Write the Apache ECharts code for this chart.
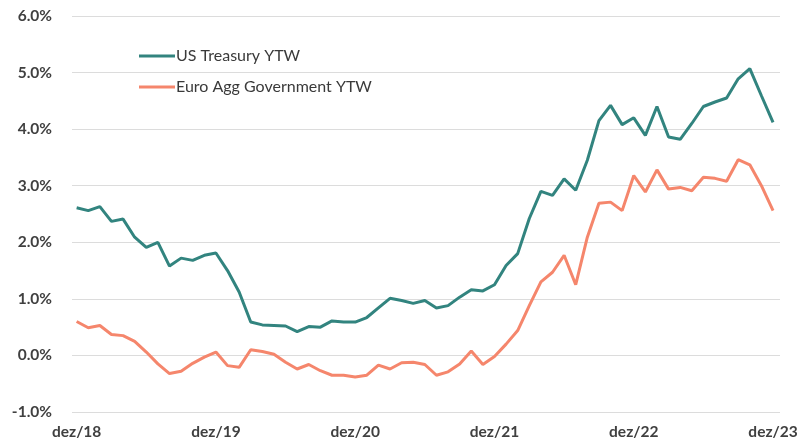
<!DOCTYPE html>
<html>
<head>
<meta charset="utf-8">
<script src="https://cdn.jsdelivr.net/npm/echarts@6/dist/echarts.min.js"></script>
<style>html,body{margin:0;padding:0;background:#fff;}#c{width:803px;height:445px;}</style>
</head>
<body>
<div id="c"></div>
<script>
const tickLabels = ['dez/18','dez/19','dez/20','dez/21','dez/22','dez/23'];
const tickPositions = [0,12,24,36,48,60];
const usTreasury = [2.61,2.56,2.63,2.37,2.41,2.09,1.91,2.00,1.58,1.72,1.68,1.77,1.81,1.50,1.12,0.59,0.54,0.53,0.52,0.42,0.51,0.50,0.61,0.59,0.59,0.67,0.84,1.01,0.97,0.92,0.97,0.84,0.88,1.03,1.16,1.14,1.25,1.59,1.80,2.42,2.90,2.83,3.12,2.92,3.45,4.15,4.42,4.08,4.20,3.89,4.40,3.86,3.82,4.10,4.40,4.48,4.55,4.89,5.07,4.59,4.12];
const euroAgg = [0.60,0.49,0.53,0.37,0.35,0.25,0.06,-0.15,-0.32,-0.28,-0.14,-0.03,0.06,-0.18,-0.21,0.10,0.07,0.02,-0.12,-0.24,-0.16,-0.27,-0.35,-0.35,-0.38,-0.35,-0.17,-0.24,-0.13,-0.12,-0.16,-0.35,-0.29,-0.15,0.08,-0.16,-0.02,0.20,0.44,0.88,1.30,1.47,1.77,1.25,2.09,2.69,2.71,2.56,3.18,2.89,3.28,2.94,2.97,2.91,3.15,3.13,3.08,3.46,3.37,3.00,2.56];
const seriesNames = ['US Treasury YTW','Euro Agg Government YTW'];

const toPairs = arr => arr.map((v,i)=>[i,v]);
const font = 'Lato, "Open Sans", sans-serif';
const chart = echarts.init(document.getElementById('c'));
chart.setOption({
  animation:false,
  backgroundColor:'#fff',
  grid:{left:72,right:23,top:16,bottom:33},
  legend:{
    orient:'vertical', left:134, top:43, itemGap:15,
    itemWidth:36, itemHeight:3, icon:'rect',
    textStyle:{fontFamily:font,fontSize:16,color:'#3a3a3a',padding:[0,0,0,-4]},
    data:seriesNames
  },
  xAxis:{
    type:'value', min:-0.4, max:60.6,
    axisLine:{show:false}, axisTick:{show:false}, splitLine:{show:false},
    axisLabel:{
      customValues:tickPositions, margin:12,
      formatter:(v)=>{const k=tickPositions.indexOf(Math.round(v));return k>=0?tickLabels[k]:'';},
      fontFamily:font,fontSize:15.5,color:'#404040',fontWeight:'bold'
    }
  },
  yAxis:{
    type:'value', min:-1, max:6, interval:1,
    axisLine:{show:false}, axisTick:{show:false},
    splitLine:{lineStyle:{color:'#dcdcdc',width:1}},
    axisLabel:{formatter:v=>v.toFixed(1)+'%',margin:20,fontFamily:font,fontSize:15.5,color:'#404040',fontWeight:'bold'}
  },
  series:[
    {name:seriesNames[0],type:'line',data:toPairs(usTreasury),showSymbol:false,symbol:'none',
     lineStyle:{color:'#32847f',width:3},itemStyle:{color:'#32847f'}},
    {name:seriesNames[1],type:'line',data:toPairs(euroAgg),showSymbol:false,symbol:'none',
     lineStyle:{color:'#f5866c',width:3},itemStyle:{color:'#f5866c'}}
  ]
});
</script>
</body>
</html>
